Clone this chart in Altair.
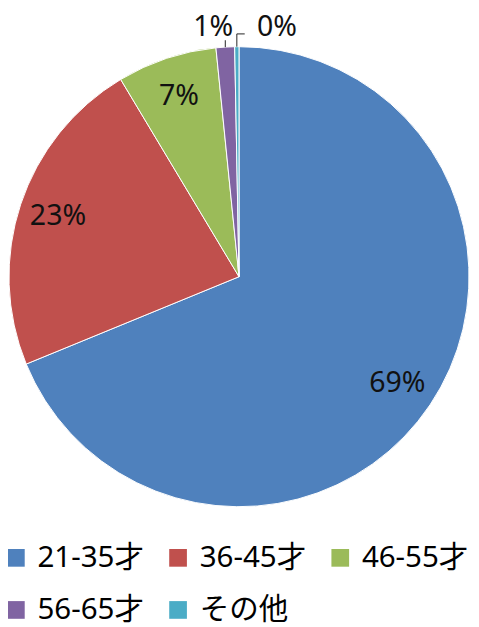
import math
import altair as alt
import pandas as pd

cats = ["21-35才", "36-45才", "46-55才", "56-65才", "その他"]
vals = [68.8, 22.6, 7.0, 1.3, 0.3]
colors = ["#4F81BD", "#C0504D", "#9BBB59", "#8064A2", "#4BACC6"]

df = pd.DataFrame({"cat": cats, "val": vals, "idx": list(range(len(cats)))})

W, H = 471, 619
R = 234
CX, CY = 235, 268
FONT = "Noto Sans, Noto Sans CJK JP, sans-serif"
TWO_PI = 2 * math.pi

base = alt.Chart(df).transform_window(
    end="sum(val)", sort=[alt.SortField("idx")], frame=[None, 0]
).transform_calculate(
    start="datum.end - datum.val"
).transform_calculate(
    mid="(datum.start + datum.end) / 2"
).transform_calculate(
    label="round(datum.val) + '%'",
    ang="(datum.start + datum.end) / 2 / 100 * " + str(TWO_PI),
)

theta_scale = alt.Scale(domain=[0, 100], range=[0, TWO_PI])
cx = alt.value(CX)
cy = alt.value(CY)

arcs = base.mark_arc(radius=R, stroke="white", strokeWidth=1).encode(
    x=cx, y=cy,
    theta=alt.Theta("start:Q", scale=theta_scale),
    theta2="end:Q",
    color=alt.Color(
        "cat:N",
        scale=alt.Scale(domain=cats, range=colors),
        legend=alt.Legend(
            title=None,
            orient="none",
            legendX=-7,
            legendY=539,
            padding=0,
            direction="horizontal",
            columns=3,
            symbolType="square",
            symbolSize=324,
            symbolStrokeWidth=0,
            labelFont=FONT,
            labelFontSize=30,
            labelColor="black",
            labelOffset=7,
            columnPadding=19,
            rowPadding=23,
            labelLimit=300,
        ),
    ),
)

txt = dict(fontSize=29, font=FONT, color="#111111", align="center", baseline="middle")

main_labels = base.transform_filter("datum.val >= 5").mark_text(radius=194, **txt).encode(
    x=cx, y=cy, theta=alt.Theta("mid:Q", scale=theta_scale), text="label:N"
)

lab_purple = base.transform_filter("datum.idx == 3").mark_text(radius=254, dx=-11, **txt).encode(
    x=cx, y=cy, theta=alt.Theta("mid:Q", scale=theta_scale), text="label:N"
)

lab_cyan = base.transform_filter("datum.idx == 4").mark_text(radius=254, dx=41, **txt).encode(
    x=cx, y=cy, theta=alt.Theta("mid:Q", scale=theta_scale), text="label:N"
)

lead_purple = base.transform_filter("datum.idx == 3").transform_calculate(
    x0=f"{CX} + {R} * sin(datum.ang)",
    y0=f"{CY} - {R} * cos(datum.ang)",
    y1=f"{CY} - {R + 7} * cos(datum.ang)",
).mark_rule(color="#222222", strokeWidth=1).encode(
    x=alt.X("x0:Q", scale=None), y=alt.Y("y0:Q", scale=None), y2="y1:Q"
)

lead_cyan_v = base.transform_filter("datum.idx == 4").transform_calculate(
    x0=f"{CX} + {R} * sin(datum.ang)",
    y0=f"{CY} - {R} * cos(datum.ang)",
    y1=f"{CY} - {R + 13} * cos(datum.ang)",
).mark_rule(color="#222222", strokeWidth=1).encode(
    x=alt.X("x0:Q", scale=None), y=alt.Y("y0:Q", scale=None), y2="y1:Q"
)

lead_cyan_h = base.transform_filter("datum.idx == 4").transform_calculate(
    x0=f"{CX} + {R} * sin(datum.ang)",
    x1=f"{CX} + {R} * sin(datum.ang) + 8",
    y1=f"{CY} - {R + 13} * cos(datum.ang)",
).mark_rule(color="#222222", strokeWidth=1).encode(
    x=alt.X("x0:Q", scale=None), x2="x1:Q", y=alt.Y("y1:Q", scale=None)
)

chart = alt.layer(
    arcs, main_labels, lab_purple, lab_cyan, lead_purple, lead_cyan_v, lead_cyan_h
).properties(
    width=W, height=H, padding=0, autosize=alt.AutoSizeParams(type="none")
).configure_view(strokeWidth=0)

chart.save("out.html", embed_options={"renderer": "svg", "actions": False})
